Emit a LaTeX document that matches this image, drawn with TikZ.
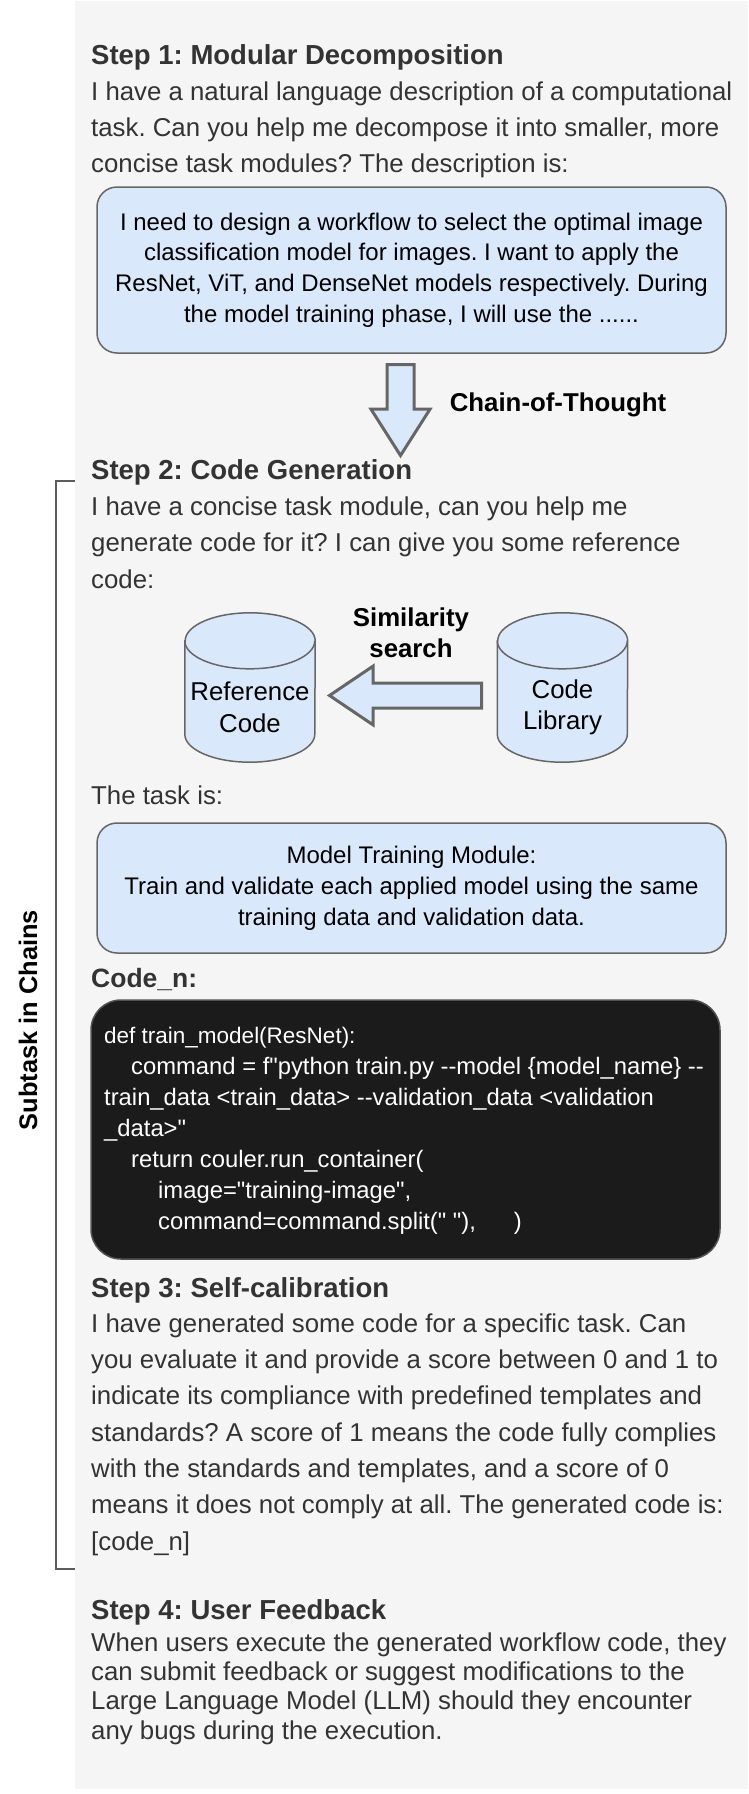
\documentclass[tikz,border=0pt]{standalone}
\usepackage{fontspec}
\setmainfont{Liberation Sans}
\newfontfamily\codeFont[Ligatures = TeXOff]{Liberation Sans}
\usetikzlibrary{shapes.arrows}

\definecolor{panelGray}{HTML}{F5F5F5}
\definecolor{boxBlue}{HTML}{DAE8FC}
\definecolor{lineGray}{HTML}{666666}
\definecolor{textGray}{HTML}{333333}
\definecolor{codeBlack}{HTML}{1B1B1B}

\begin{document}
\frenchspacing
\begin{tikzpicture}[x = 1pt, y = -1pt]
	\tikzstyle{titleStyle} = [anchor = base west, inner sep = 0pt, text = textGray, align = left, font = \fontsize{27.5}{33}\selectfont\bfseries]
	\tikzstyle{bodyStyle} = [anchor = base west, inner sep = 0pt, text = textGray, align = left, font = \fontsize{25.8}{36.3}\selectfont]
	\tikzstyle{boxStyle} = [shape = rectangle, rounded corners = 20pt, draw = lineGray, line width = 1.5pt, fill = boxBlue, minimum width = 629pt, align = center, font = \fontsize{24}{30.8}\selectfont]
	\tikzstyle{dbStyle} = [shape = rectangle, minimum width = 130pt, minimum height = 149pt, inner sep = 0pt]
	\tikzstyle{dbText} = [align = center, inner sep = 0pt, font = \fontsize{25.8}{31.5}\selectfont]
	\tikzstyle{fatArrow} = [shape = single arrow, anchor = tail, draw = lineGray, line width = 3pt, fill = boxBlue, inner xsep = 0pt, minimum width = 1pt, single arrow head indent = 0pt]
	\tikzstyle{noteStyle} = [align = center, inner sep = 0pt, font = \fontsize{25.8}{31}\selectfont\bfseries]
	\useasboundingbox (0, 0) rectangle (748, 1794);
	\fill[panelGray] (75, 1) rectangle (748, 1789);
	% base of a multi-line node = baseline of its last line
	\node[titleStyle] (t1) at (91, 64) {Step 1: Modular Decomposition};
	\node[bodyStyle, font = \fontsize{25.8}{36}\selectfont] (b1) at (91, 172) {I have a natural language description of a computational\\task. Can you help me decompose it into smaller, more\\concise task modules? The description is:};
	\node[boxStyle, minimum height = 166pt] (desc) at (411.5, 270) {I need to design a workflow to select the optimal image\\classification model for images. I want to apply the\\ResNet, ViT, and DenseNet models respectively. During\\the model training phase, I will use the ......};
	\node[fatArrow, rotate = -90, minimum height = 91pt, inner ysep = 12pt, single arrow head extend = 16pt, single arrow tip angle = 65] (cot) at (400.5, 363) {};
	\node[noteStyle] (cotText) at (558, 405) {Chain-of-Thought};
	\node[titleStyle] (t2) at (91, 479) {Step 2: Code Generation};
	\node[bodyStyle, font = \fontsize{25.8}{36.5}\selectfont] (b2) at (91, 588) {I have a concise task module, can you help me\\generate code for it? I can give you some reference\\code:};
	\node[dbStyle] (refDb) at (250, 687.5) {};
	\node[dbStyle] (libDb) at (562.5, 687.5) {};
	\foreach \db in {refDb, libDb}
	{
		\draw[draw = lineGray, line width = 1.5pt, fill = boxBlue] ([yshift = -28pt]\db.north west) -- ([yshift = 28pt]\db.south west) arc[start angle = 180, end angle = 360, x radius = 65pt, y radius = 28pt] -- ([yshift = -28pt]\db.north east) arc[start angle = 0, end angle = 180, x radius = 65pt, y radius = 28pt] -- cycle;
		\draw[draw = lineGray, line width = 1.5pt] ([yshift = -28pt]\db.north west) arc[start angle = 180, end angle = 360, x radius = 65pt, y radius = 28pt];
	}
	\node[dbText] (refText) at (250, 707.5) {Reference\\Code};
	\node[dbText] (libText) at (562.5, 707.5) {Code\\Library};
	\node[fatArrow, rotate = 180, minimum height = 152pt, inner ysep = 11pt, single arrow head extend = 17pt, single arrow tip angle = 68] (search) at (483, 695.5) {};
	\node[noteStyle] (searchText) at (411, 632.5) {Similarity\\search};
	\node[bodyStyle] (b2b) at (91, 804) {The task is:};
	\node[boxStyle, minimum height = 130pt] (module) at (411.5, 888) {Model Training Module:\\Train and validate each applied model using the same\\training data and validation data.};
	\node[titleStyle, font = \fontsize{26.5}{33}\selectfont\bfseries] (cn) at (91, 987) {Code\_n:};
	\node[shape = rectangle, rounded corners = 30pt, draw = lineGray!80!black, line width = 1.5pt, fill = codeBlack, minimum width = 629pt, minimum height = 259pt] (codeBox) at (405.5, 1129.5) {};
	\node[anchor = base west, inner sep = 0pt, text = white, align = left, font = \fontsize{23.8}{31}\codeFont] (code) at (104, 1229) {{\fontsize{22.5}{31}\selectfont def train\_model(ResNet):}\\\hspace*{27pt}command = f"python train.py --model \{model\_name\} --\\train\_data <train\_data>  --validation\_data <validation\\\_data>"\\\hspace*{27pt}return couler.run\_container(\\\hspace*{54pt}image="training-image",\\\hspace*{54pt}command=command.split(" "),\hspace{38pt})};
	\node[titleStyle] (t3) at (91, 1297) {Step 3: Self-calibration};
	\node[bodyStyle] (b3) at (91, 1550) {I have generated some code for a specific task. Can\\you evaluate it and provide a score between 0 and 1 to\\indicate its compliance with predefined templates and\\standards? A score of 1 means the code fully complies\\with the standards and templates, and a score of 0\\means it does not comply at all. The generated code is:\\{[code\_n]}};
	\draw[draw = lineGray!90!black, line width = 2pt] (75, 481) -- (55.5, 481) -- (55.5, 1569) -- (75, 1569);
	\node[rotate = 90, inner sep = 0pt, font = \fontsize{25.4}{30}\selectfont\bfseries] (chains) at (28, 1020) {Subtask in Chains};
	\node[titleStyle] (t4) at (91, 1619) {Step 4: User Feedback};
	\node[bodyStyle, font = \fontsize{25.8}{29.3}\selectfont] (b4) at (91, 1739) {When users execute the generated workflow code, they\\can submit feedback or suggest modifications to the\\Large Language Model (LLM) should they encounter\\any bugs during the execution.};
\end{tikzpicture}
\end{document}
